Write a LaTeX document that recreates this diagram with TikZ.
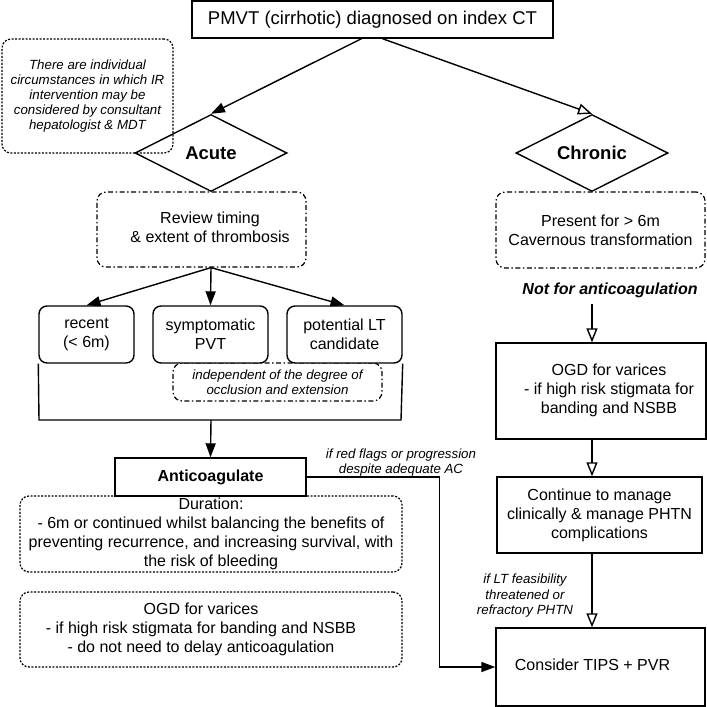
\documentclass[tikz,border=0pt]{standalone}
\usepackage{fontspec}
\setmainfont{Liberation Sans}
\usetikzlibrary{arrows.meta,shapes.geometric}
\newcommand{\shiftbox}[2]{\hspace*{#1}\begin{tabular}{@{}c@{}}#2\end{tabular}}
\tikzset{
  every node/.style={inner sep=0pt},
  body/.style={font=\fontsize{16}{19}\selectfont, align=center},
  notetext/.style={font=\fontsize{13.3}{14.8}\selectfont\itshape, align=center},
  solidbox/.style={draw, line width=1.4pt, fill=white, body},
  roundbox/.style={solidbox, rounded corners=8pt},
  dashdotbox/.style={draw, line width=1.2pt, rounded corners=9pt, dash pattern=on 5pt off 2.5pt on 1.5pt off 2.5pt},
  dotbox/.style={draw, line width=1.2pt, rounded corners=9pt, dash pattern=on 2pt off 1.5pt},
  diam/.style={diamond, draw, line width=1.4pt, aspect=2, minimum width=152pt, minimum height=77pt, font=\fontsize{18.5}{22}\selectfont\bfseries},
  arr/.style={-{Triangle[length=14pt,width=10pt]}, line width=1.4pt},
  oarr/.style={-{Triangle[open,length=14pt,width=11pt,fill=white]}, line width=1.4pt},
  conn/.style={line width=1.4pt}
}
\begin{document}
\begin{tikzpicture}[x=1pt,y=-1pt]
\useasboundingbox (0,0) rectangle (707,707);

% top
\node[solidbox, minimum width=361pt, minimum height=37pt, font=\fontsize{18.5}{22}\selectfont] (top) at (372.5,19.5) {PMVT (cirrhotic) diagnosed on index CT};

% IR note
\node[dotbox, notetext, minimum width=171pt, minimum height=114pt] (irnote) at (87.5,96) {There are individual\\circumstances in which IR\\intervention may be\\considered by consultant\\hepatologist \& MDT};

% diamonds
\node[diam] (acute) at (211,153) {Acute};
\node[diam] (chronic) at (592,153) {Chronic};

% review / present
\node[dashdotbox, body, minimum width=209pt, minimum height=75pt] (review) at (201.5,229.5) {\shiftbox{17pt}{Review timing\\\& extent of thrombosis}};
\node[dashdotbox, body, minimum width=209pt, minimum height=76pt] (present) at (600.5,230) {Present for > 6m\\Cavernous transformation};

% independent note (behind the boxes)
\node[dashdotbox, notetext, minimum width=209pt, minimum height=38pt] (indep) at (277.5,382) {independent of the degree of\\occlusion and extension};

% three boxes
\node[roundbox, minimum width=95pt, minimum height=57pt] (recent) at (86.5,334.5) {recent\\(< 6m)};
\node[roundbox, minimum width=115pt, minimum height=57pt] (sympt) at (210.5,334.5) {symptomatic\\PVT};
\node[roundbox, minimum width=115pt, minimum height=57pt] (potential) at (344.5,334.5) {potential LT\\candidate};

% duration and anticoagulate
\node[dotbox, body, minimum width=382pt, minimum height=76pt] (duration) at (211,534) {Duration:\\- 6m or continued whilst balancing the benefits of\\preventing recurrence, and increasing survival, with\\the risk of bleeding};
\node[solidbox, font=\fontsize{16}{19}\selectfont\bfseries, minimum width=191pt, minimum height=38pt] (anti) at (210.5,477) {Anticoagulate};
\node[dotbox, body, minimum width=382pt, minimum height=75pt] (ogdl) at (211,629.5) {\shiftbox{-20pt}{OGD for varices\\- if high risk stigmata for banding and NSBB\\- do not need to delay anticoagulation}};

% chronic side
\node[font=\fontsize{16}{19}\selectfont\bfseries\itshape, inner ysep=6pt] (notfor) at (610,290) {Not for anticoagulation};
\node[solidbox, minimum width=210pt, minimum height=96pt] (ogdr) at (601,391) {\shiftbox{16pt}{OGD for varices\\- if high risk stigmata for\\banding and NSBB}};
\node[solidbox, minimum width=205pt, minimum height=76pt] (cont) at (599.5,515) {Continue to manage\\clinically \& manage PHTN\\complications};
\node[solidbox, minimum width=209pt, minimum height=78pt] (consider) at (600.5,667) {\shiftbox{-16pt}{Consider TIPS + PVR}};

% labels
\node[notetext] (rflabel) at (401,462.5) {if red flags or progression\\despite adequate AC};
\node[notetext, font=\fontsize{13.3}{15.5}\selectfont\itshape] (ltlabel) at (525,596) {if LT feasibility\\threatened or\\refractory PHTN};

% connectors
\draw[arr] ([xshift=-11pt]top.south) -- (acute.north);
\draw[oarr] ([xshift=10pt]top.south) -- (chronic.north);
\draw[arr] ([xshift=9.5pt]review.south) -- (recent.north);
\draw[arr] ([xshift=9.5pt]review.south) -- (sympt.north);
\draw[arr] ([xshift=9.5pt]review.south) -- (potential.north);

\coordinate (bl) at (39,420);
\coordinate (br) at (401,420);
\coordinate (bm) at (211,420);
\draw[conn] (recent.south west) -- (bl) -- (br) -- (potential.south east);
\draw[arr] (bm) -- (anti.north);

\draw[arr] (anti.east) -- ++(133,0) |- (consider.west);

\draw[oarr] (notfor.south -| chronic.south) -- (ogdr.north -| chronic.south);
\draw[oarr] (ogdr.south -| chronic.south) -- (cont.north -| chronic.south);
\draw[oarr] (cont.south -| chronic.south) -- (consider.north -| chronic.south);
\end{tikzpicture}
\end{document}
